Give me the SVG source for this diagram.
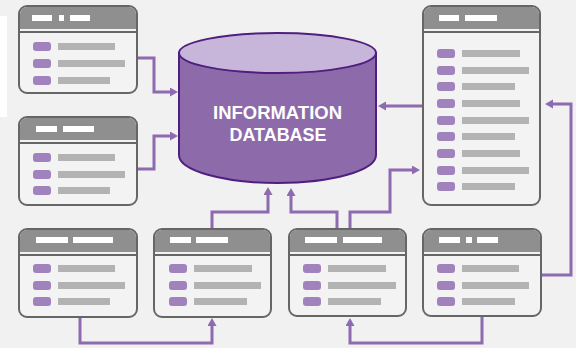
<svg xmlns="http://www.w3.org/2000/svg" width="576" height="348" viewBox="0 0 576 348">
<defs>
<style>
.frame{fill:#f3f3f3;stroke:#666;stroke-width:2}
.hdr{fill:#8f8f8f}
.sep{stroke:#666;stroke-width:2}
.hb{fill:#fff}
.ic{fill:#a082bc}
.bar{fill:#b3b3b3}
.conn{fill:none;stroke:#8e6bb0;stroke-width:3;marker-end:url(#ah)}
.lbl{font-family:"Liberation Sans",Arial,sans-serif;font-weight:bold;font-size:17.5px;fill:#fff;text-anchor:middle}
</style>
<marker id="ah" markerUnits="userSpaceOnUse" markerWidth="10" markerHeight="10" refX="2" refY="4.5" orient="auto">
<path d="M0,0 L8,4.5 L0,9 z" fill="#8e6bb0"/>
</marker>
</defs>
<rect width="576" height="348" fill="#f1f1f1"/>
<rect x="0" y="16" width="7" height="101" fill="#fff"/>

<g id="connectors">
<path class="conn" d="M137,58 H154 V92 H172"/>
<path class="conn" d="M137,169 H154 V136 H172"/>
<path class="conn" d="M423,106 H384"/>
<path class="conn" d="M337,229 V212 H291 V194"/>
<path class="conn" d="M350,229 V212 H390 V170 H414"/>
<path class="conn" d="M212,229 V212 H268 V193"/>
<path class="conn" d="M80,317 V343 H212 V324"/>
<path class="conn" d="M482,316 V343 H350 V324"/>
<path class="conn" d="M541,275 H571 V104 H551"/>
</g>

<g id="database">
<path d="M179,53 V155 A98.5,28 0 0 0 376,155 V53 Z" fill="#8d6bab" stroke="#4f1f7f" stroke-width="2"/>
<ellipse cx="277.5" cy="53" rx="98.5" ry="20" fill="#c8b6da" stroke="#4f1f7f" stroke-width="2"/>
<text class="lbl" x="277.5" y="119" textLength="129" lengthAdjust="spacingAndGlyphs">INFORMATION</text>
<text class="lbl" x="278" y="141" textLength="97" lengthAdjust="spacingAndGlyphs">DATABASE</text>
</g>

<g id="window1">
<rect class="frame" x="19" y="6" width="118" height="87" rx="8"/>
<path class="hdr" d="M20,29 V14 A7,7 0 0 1 27,7 H129 A7,7 0 0 1 136,14 V29 Z"/>
<line class="sep" x1="19" y1="32" x2="137" y2="32"/>
<rect class="hb" x="32" y="15" width="20" height="6"/>
<rect class="hb" x="59" y="15" width="5" height="6"/>
<rect class="hb" x="70" y="15" width="20" height="6"/>
<rect class="ic" x="33" y="42" width="18" height="9" rx="3"/>
<rect class="bar" x="58" y="43" width="57" height="7"/>
<rect class="ic" x="33" y="59" width="18" height="9" rx="3"/>
<rect class="bar" x="58" y="60" width="67" height="7"/>
<rect class="ic" x="33" y="76" width="18" height="9" rx="3"/>
<rect class="bar" x="58" y="77" width="52" height="7"/>
</g>

<g id="window2">
<rect class="frame" x="19" y="117" width="118" height="88" rx="8"/>
<path class="hdr" d="M20,140 V125 A7,7 0 0 1 27,118 H129 A7,7 0 0 1 136,125 V140 Z"/>
<line class="sep" x1="19" y1="143" x2="137" y2="143"/>
<rect class="hb" x="36" y="126" width="21" height="6"/>
<rect class="hb" x="63" y="126" width="31" height="6"/>
<rect class="ic" x="33" y="153" width="18" height="9" rx="3"/>
<rect class="bar" x="58" y="154" width="57" height="7"/>
<rect class="ic" x="33" y="170" width="18" height="9" rx="3"/>
<rect class="bar" x="58" y="171" width="67" height="7"/>
<rect class="ic" x="33" y="186" width="18" height="9" rx="3"/>
<rect class="bar" x="58" y="187" width="52" height="7"/>
</g>

<g id="window3">
<rect class="frame" x="19" y="229" width="118" height="88" rx="8"/>
<path class="hdr" d="M20,252 V237 A7,7 0 0 1 27,230 H129 A7,7 0 0 1 136,237 V252 Z"/>
<line class="sep" x1="19" y1="255" x2="137" y2="255"/>
<rect class="hb" x="36" y="237" width="32" height="6"/>
<rect class="hb" x="73" y="237" width="40" height="6"/>
<rect class="ic" x="33" y="264" width="18" height="9" rx="3"/>
<rect class="bar" x="58" y="265" width="57" height="7"/>
<rect class="ic" x="33" y="281" width="18" height="9" rx="3"/>
<rect class="bar" x="58" y="282" width="67" height="7"/>
<rect class="ic" x="33" y="297" width="18" height="9" rx="3"/>
<rect class="bar" x="58" y="298" width="52" height="7"/>
</g>

<g id="window4">
<rect class="frame" x="154" y="229" width="117" height="88" rx="8"/>
<path class="hdr" d="M155,252 V237 A7,7 0 0 1 162,230 H263 A7,7 0 0 1 270,237 V252 Z"/>
<line class="sep" x1="154" y1="255" x2="271" y2="255"/>
<rect class="hb" x="170" y="237" width="21" height="6"/>
<rect class="hb" x="196" y="237" width="32" height="6"/>
<rect class="ic" x="169" y="264" width="18" height="9" rx="3"/>
<rect class="bar" x="194" y="265" width="58" height="7"/>
<rect class="ic" x="169" y="281" width="18" height="9" rx="3"/>
<rect class="bar" x="194" y="282" width="67" height="7"/>
<rect class="ic" x="169" y="297" width="18" height="9" rx="3"/>
<rect class="bar" x="194" y="298" width="53" height="7"/>
</g>

<g id="window5">
<rect class="frame" x="289" y="229" width="117" height="87" rx="8"/>
<path class="hdr" d="M290,252 V237 A7,7 0 0 1 297,230 H398 A7,7 0 0 1 405,237 V252 Z"/>
<line class="sep" x1="289" y1="255" x2="406" y2="255"/>
<rect class="hb" x="305" y="237" width="32" height="6"/>
<rect class="hb" x="343" y="237" width="39" height="6"/>
<rect class="ic" x="303" y="264" width="18" height="9" rx="3"/>
<rect class="bar" x="328" y="265" width="58" height="7"/>
<rect class="ic" x="303" y="281" width="18" height="9" rx="3"/>
<rect class="bar" x="328" y="282" width="68" height="7"/>
<rect class="ic" x="303" y="297" width="18" height="9" rx="3"/>
<rect class="bar" x="328" y="298" width="53" height="7"/>
</g>

<g id="window6">
<rect class="frame" x="423" y="229" width="118" height="87" rx="8"/>
<path class="hdr" d="M424,252 V237 A7,7 0 0 1 431,230 H533 A7,7 0 0 1 540,237 V252 Z"/>
<line class="sep" x1="423" y1="255" x2="541" y2="255"/>
<rect class="hb" x="439" y="237" width="21" height="6"/>
<rect class="hb" x="466" y="237" width="6" height="6"/>
<rect class="hb" x="477" y="237" width="21" height="6"/>
<rect class="ic" x="437" y="264" width="18" height="9" rx="3"/>
<rect class="bar" x="462" y="265" width="57" height="7"/>
<rect class="ic" x="437" y="281" width="18" height="9" rx="3"/>
<rect class="bar" x="462" y="282" width="67" height="7"/>
<rect class="ic" x="437" y="297" width="18" height="9" rx="3"/>
<rect class="bar" x="462" y="298" width="53" height="7"/>
</g>

<g id="window-tall">
<rect class="frame" x="423" y="6" width="117" height="199" rx="8"/>
<path class="hdr" d="M424,29 V14 A7,7 0 0 1 431,7 H532 A7,7 0 0 1 539,14 V29 Z"/>
<line class="sep" x1="423" y1="32" x2="540" y2="32"/>
<rect class="hb" x="439" y="15" width="20" height="6"/>
<rect class="hb" x="465" y="15" width="32" height="6"/>
<rect class="ic" x="437" y="49" width="18" height="9" rx="3"/>
<rect class="bar" x="462" y="50" width="58" height="7"/>
<rect class="ic" x="437" y="66" width="18" height="9" rx="3"/>
<rect class="bar" x="462" y="67" width="67" height="7"/>
<rect class="ic" x="437" y="82" width="18" height="9" rx="3"/>
<rect class="bar" x="462" y="83" width="53" height="7"/>
<rect class="ic" x="437" y="99" width="18" height="9" rx="3"/>
<rect class="bar" x="462" y="100" width="58" height="7"/>
<rect class="ic" x="437" y="116" width="18" height="9" rx="3"/>
<rect class="bar" x="462" y="117" width="67" height="7"/>
<rect class="ic" x="437" y="132" width="18" height="9" rx="3"/>
<rect class="bar" x="462" y="133" width="53" height="7"/>
<rect class="ic" x="437" y="149" width="18" height="9" rx="3"/>
<rect class="bar" x="462" y="150" width="58" height="7"/>
<rect class="ic" x="437" y="166" width="18" height="9" rx="3"/>
<rect class="bar" x="462" y="167" width="67" height="7"/>
<rect class="ic" x="437" y="182" width="18" height="9" rx="3"/>
<rect class="bar" x="462" y="183" width="53" height="7"/>
</g>
</svg>
